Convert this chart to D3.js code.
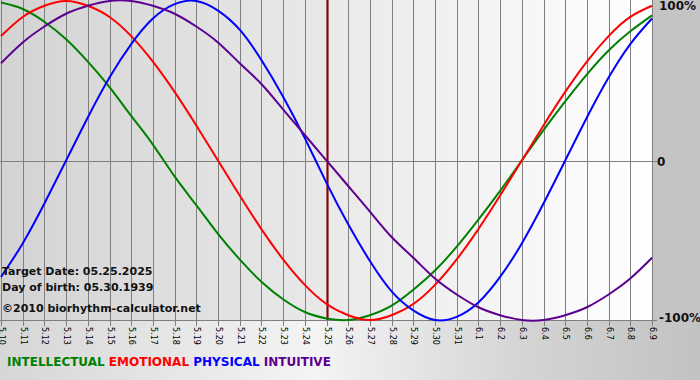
<!DOCTYPE html>
<html>
<head>
<meta charset="utf-8">
<script src="https://cdn.jsdelivr.net/npm/d3@7"></script>
<style>
html,body{margin:0;padding:0;background:#fff;}
svg{display:block;}
</style>
</head>
<body>
<svg id="chart" width="700" height="380"></svg>
<script>
// ---- data ----
const dates = ["5.10","5.11","5.12","5.13","5.14","5.15","5.16","5.17","5.18","5.19","5.20","5.21","5.22","5.23","5.24","5.25","5.26","5.27","5.28","5.29","5.30","5.31","6.1","6.2","6.3","6.4","6.5","6.6","6.7","6.8","6.9"];
const physical     = [-73,-52,-27,0,27,52,73,89,98,100,94,82,63,40,14,-14,-40,-63,-82,-94,-100,-98,-89,-73,-52,-27,0,27,52,73,89];
const emotional    = [78,90,97,100,97,90,78,62,43,22,0,-22,-43,-62,-78,-90,-97,-100,-97,-90,-78,-62,-43,-22,0,22,43,62,78,90,97];
const intellectual = [99,95,87,76,62,46,28,10,-10,-28,-46,-62,-76,-87,-95,-99,-100,-97,-91,-81,-69,-54,-37,-19,0,19,37,54,69,81,91];
const intuitive    = [61,74,84,92,97,100,100,97,92,84,74,61,48,32,16,0,-16,-32,-48,-61,-74,-84,-92,-97,-100,-100,-97,-92,-84,-74,-61];
const yTickLabels = [{v:100,t:"100%"},{v:0,t:"0"},{v:-100,t:"-100%"}];
const targetDate = "5.25";
const infoLines = ["Target Date: 05.25.2025","Day of birth: 05.30.1939","\u00A92010 biorhythm-calculator.net"];
const seriesNames = ["INTELLECTUAL","EMOTIONAL","PHYSICAL","INTUITIVE"];
const seriesColors = ["#008000","#ff0000","#0000ff","#5c0090"];
const seriesData = [intellectual, emotional, physical, intuitive];

// ---- drawing ----
const svg = d3.select("#chart");
const W = 700, H = 380;
const plot = {left:1, right:652, top:1, bottom:320};

const defs = svg.append("defs");
const bgGrad = defs.append("linearGradient").attr("id","bgGrad").attr("x1","0").attr("x2","1").attr("y1","0").attr("y2","0");
bgGrad.append("stop").attr("offset","0").attr("stop-color","#d6d6d6");
bgGrad.append("stop").attr("offset","0.45").attr("stop-color","#f4f4f4");
bgGrad.append("stop").attr("offset","0.75").attr("stop-color","#d4d4d4");
bgGrad.append("stop").attr("offset","1").attr("stop-color","#c2c2c2");
const plotGrad = defs.append("linearGradient").attr("id","plotGrad").attr("x1","0").attr("x2","1").attr("y1","0").attr("y2","0");
plotGrad.append("stop").attr("offset","0").attr("stop-color","#d3d3d3");
plotGrad.append("stop").attr("offset","1").attr("stop-color","#ffffff");

svg.append("rect").attr("width",W).attr("height",H).attr("fill","url(#bgGrad)");
svg.append("rect").attr("x",652).attr("y",0).attr("width",48).attr("height",322).attr("fill","#c4c4c4");
svg.append("rect").attr("x",0).attr("y",0).attr("width",plot.right).attr("height",plot.bottom+1).attr("fill","url(#plotGrad)");

const x = d3.scalePoint().domain(dates).range([plot.left, plot.right]);
const y = d3.scaleLinear().domain([-100,100]).range([plot.bottom, plot.top]);

// vertical grid lines
const grid = svg.append("g").attr("stroke","#7f7f7f").attr("stroke-width",1);
grid.selectAll("line.v").data(dates).join("line")
  .attr("x1",d=>Math.round(x(d))+0.5).attr("x2",d=>Math.round(x(d))+0.5)
  .attr("y1",0).attr("y2",plot.bottom+6);
// zero line & bottom border
grid.append("line").attr("x1",0).attr("x2",plot.right+5).attr("y1",Math.round(y(0))+0.5).attr("y2",Math.round(y(0))+0.5);
grid.append("line").attr("x1",0).attr("x2",plot.right+5).attr("y1",plot.bottom+0.5).attr("y2",plot.bottom+0.5);

// x-axis labels (rotated)
svg.append("g").selectAll("text").data(dates).join("text")
  .attr("transform",d=>`translate(${Math.round(x(d))+0.5},${plot.bottom+7}) rotate(90)`)
  .attr("dy","0.35em")
  .attr("font-family","DejaVu Sans, Verdana, sans-serif")
  .attr("font-size","8px")
  .attr("fill","#000")
  .text(d=>d);

// target line
const tx = Math.round(x(targetDate))+0.5;
svg.append("line").attr("x1",tx).attr("x2",tx).attr("y1",0).attr("y2",plot.bottom).attr("stroke","#c88080").attr("stroke-width",3);
svg.append("line").attr("x1",tx).attr("x2",tx).attr("y1",0).attr("y2",plot.bottom).attr("stroke","#6a0d0d").attr("stroke-width",1.5);

// curves
const line = d3.line().x((d,i)=>x(dates[i])).y(d=>y(d)).curve(d3.curveNatural);
const curvesG = svg.append("g");
seriesData.forEach((s,k)=>{
  curvesG.append("path").attr("d",line(s)).attr("fill","none")
    .attr("stroke",seriesColors[k]).attr("stroke-width",2);
});

// right labels
svg.append("g").selectAll("text").data(yTickLabels).join("text")
  .attr("x",d=>d.v===0?657:659).attr("y",d=>y(d.v))
  .attr("dy",d=>d.v===100?"0.75em":(d.v===-100?"0.2em":"0.45em"))
  .attr("font-family","DejaVu Sans, Verdana, sans-serif")
  .attr("font-weight","bold").attr("font-size","12px").attr("fill","#111")
  .text(d=>d.t);

// info lines
const infoY = [275,291,312];
svg.append("g").selectAll("text").data(infoLines).join("text")
  .attr("x",2).attr("y",(d,i)=>infoY[i])
  .attr("font-family","DejaVu Sans, Verdana, sans-serif")
  .attr("font-weight","bold").attr("font-size","11px").attr("fill","#111")
  .text(d=>d);

// legend
const leg = svg.append("text").attr("x",7).attr("y",366)
  .attr("font-family","DejaVu Sans, Verdana, sans-serif")
  .attr("font-weight","bold").attr("font-size","12px");
seriesNames.forEach((n,k)=>{
  leg.append("tspan").attr("fill",seriesColors[k]).text((k? " ":"")+n);
});
</script>
</body>
</html>
